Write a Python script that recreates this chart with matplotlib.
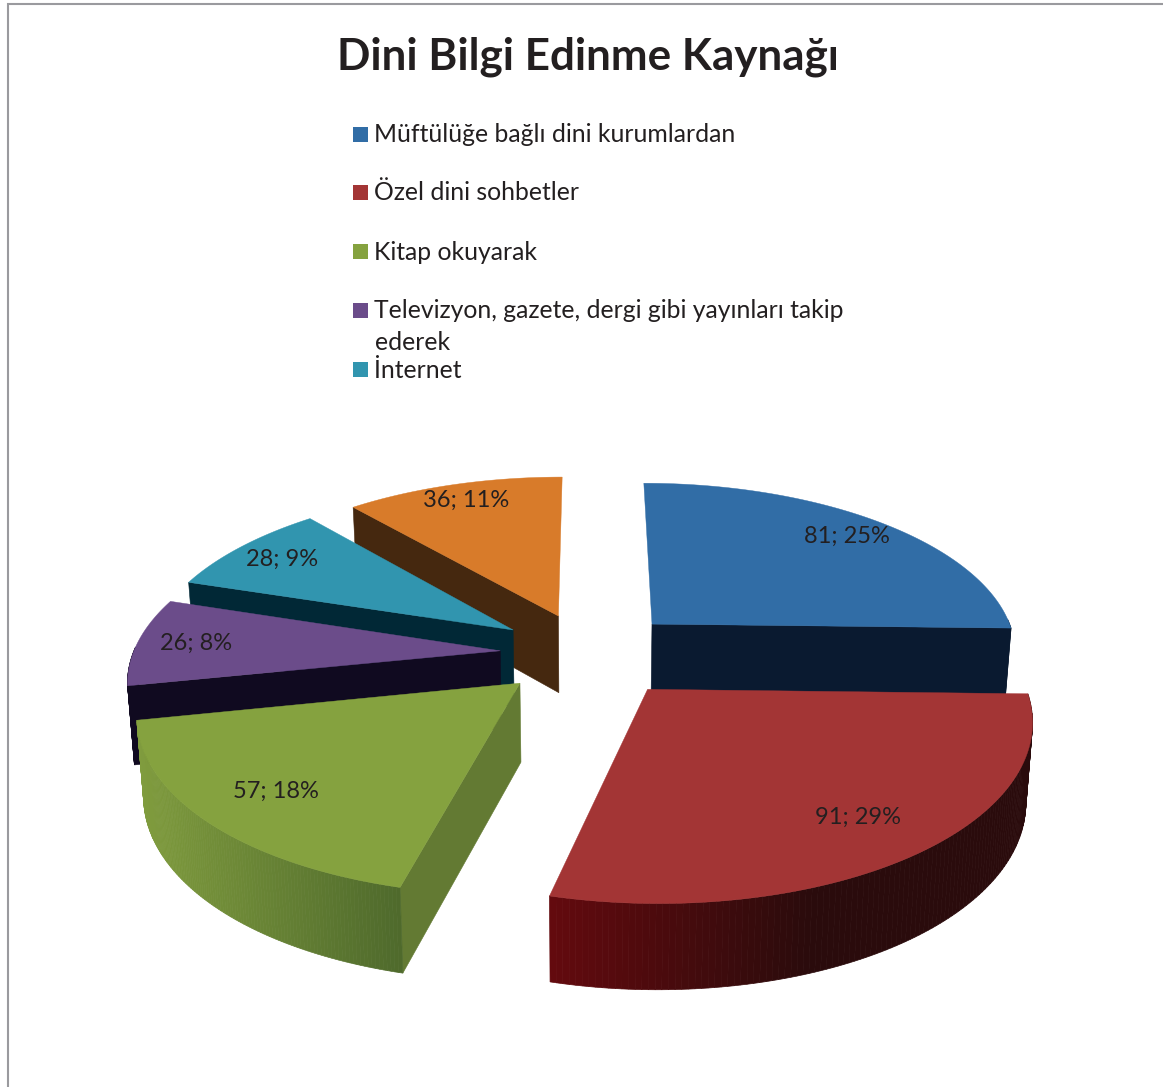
import numpy as np
import matplotlib
matplotlib.use('Agg')
import matplotlib.pyplot as plt
from matplotlib.patches import Polygon, Rectangle
from matplotlib.colors import to_rgb

# Data
categories = ['Müftülüğe bağlı dini kurumlardan', 'Özel dini sohbetler', 'Kitap okuyarak',
              'Televizyon, gazete, dergi gibi yayınları takip\nederek', 'İnternet', 'Diğer']
values = [81, 91, 57, 26, 28, 36]
percents = [25, 29, 18, 8, 9, 11]
title = 'Dini Bilgi Edinme Kaynağı'

# Styles
top_colors = ['#316DA6', '#A33535', '#85A23F', '#6B4C8A', '#3195AF', '#D87B2A']
cut_colors = ['#0A1A30', '#2A0B0C', '#637A33', '#100A20', '#012836', '#45280F']
wall_left = ['#0A1A30', '#640A0E', '#809C3E', '#100A20', '#012836', '#45280F']
wall_right = ['#0A1A30', '#2A0B0C', '#4F6A2C', '#100A20', '#012836', '#45280F']
label_radius = [0.85, 0.80, 0.80, 0.84, 0.84, 0.87]
explode = [0.25, 0.26, 0.25, 0.24, 0.25, 0.24]
draw_order = [5, 4, 3, 0, 2, 1]

# Projection of the pie, in picture pixels
cx, cy = 588, 653
rx, ry = 367, 170
persp = 0.15
depth = 78
bottom_shrink = 0.985


def project(x, y, bottom=False):
    s = 1 / (1 + persp * y)
    px = rx * x * s
    py = cy - ry * y * s
    if bottom:
        px = px * bottom_shrink
        py = py + depth * np.sqrt(s)
    return np.column_stack([cx + px, py])


fig = plt.figure(figsize=(11.63, 10.87), dpi=100)
ax = fig.add_axes([0, 0, 1, 1])
ax.set_xlim(0, 1163)
ax.set_ylim(1087, 0)
ax.axis('off')

# Border of the chart area (open on the right and bottom)
ax.plot([8, 8, 1163], [1087, 4, 4], color='#9A9A9E', lw=1.5, solid_joinstyle='miter')

plt.rcParams['font.family'] = ['Lato', 'DejaVu Sans']
text_color = '#231F20'

edges = np.concatenate([[0], np.cumsum(values)]) / np.sum(values) * 2 * np.pi

for i in draw_order:
    a0, a1 = edges[i], edges[i + 1]
    mid = (a0 + a1) / 2
    ox, oy = explode[i] * np.sin(mid), explode[i] * np.cos(mid)
    t = np.linspace(a0, a1, 120)
    rim_x = ox + np.sin(t)
    rim_y = oy + np.cos(t)
    apex_x = np.array([ox])
    apex_y = np.array([oy])

    top_rim = project(rim_x, rim_y)
    bot_rim = project(rim_x, rim_y, True)
    top_apex = project(apex_x, apex_y)
    bot_apex = project(apex_x, apex_y, True)

    # cut faces, only those turned towards the viewer
    if np.sin(a0) < -1e-9:
        face = np.vstack([top_apex, top_rim[0], bot_rim[0], bot_apex])
        ax.add_patch(Polygon(face, closed=True, fc=cut_colors[i], ec=cut_colors[i], lw=0.4))
    if np.sin(a1) > 1e-9:
        face = np.vstack([top_apex, top_rim[-1], bot_rim[-1], bot_apex])
        ax.add_patch(Polygon(face, closed=True, fc=cut_colors[i], ec=cut_colors[i], lw=0.4))

    # outer wall on the front half, shaded along x
    c_left = np.array(to_rgb(wall_left[i]))
    c_right = np.array(to_rgb(wall_right[i]))
    x_min, x_max = top_rim[:, 0].min(), top_rim[:, 0].max()
    for j in range(len(t) - 1):
        if np.cos(t[j]) > 0.02 and np.cos(t[j + 1]) > 0.02:
            continue
        f = (top_rim[j, 0] - x_min) / (x_max - x_min)
        # red goes dark before its right end
        if i == 1:
            f = min(1, f / 0.55)
        col = c_left + (c_right - c_left) * f
        strip = np.vstack([top_rim[j], top_rim[j + 1], bot_rim[j + 1], bot_rim[j]])
        ax.add_patch(Polygon(strip, closed=True, fc=col, ec=col, lw=0.5))

    # top face
    ax.add_patch(Polygon(np.vstack([top_apex, top_rim]), closed=True,
                         fc=top_colors[i], ec=top_colors[i], lw=0.3))

# Data labels
for i in range(len(values)):
    mid = (edges[i] + edges[i + 1]) / 2
    r = explode[i] + label_radius[i]
    pos = project(np.array([r * np.sin(mid)]), np.array([r * np.cos(mid)]))[0]
    ax.text(pos[0], pos[1], f'{values[i]}; {percents[i]}%', ha='center', va='center',
            fontsize=17, color=text_color)

# Title
ax.text(588, 57, title, ha='center', va='center', fontsize=31.7, fontweight='bold', color=text_color)

# Legend (five entries are shown in the reference)
legend_y = [134, 192, 251, 310, 369]
for i, y in enumerate(legend_y):
    ax.add_patch(Rectangle((353, y - 7.5), 15, 15, fc=top_colors[i], ec='none'))
    ax.text(374.5, y - 10.5, categories[i], ha='left', va='top', fontsize=17.8,
            color=text_color, linespacing=1.45)

fig.savefig('out.png', dpi=100)
